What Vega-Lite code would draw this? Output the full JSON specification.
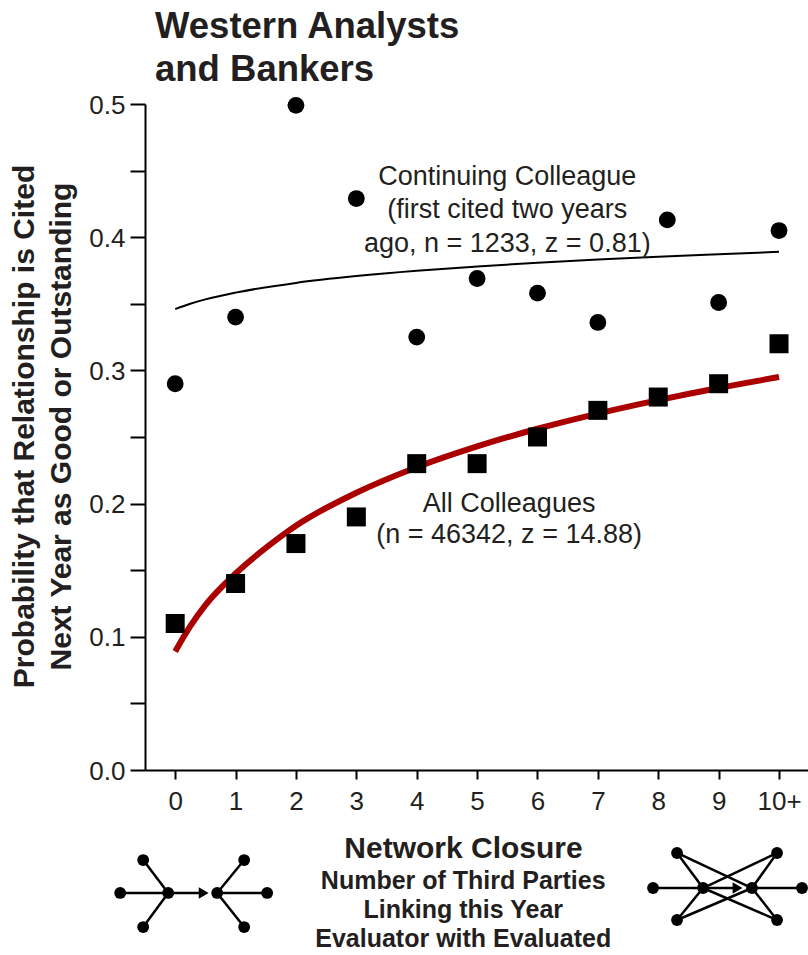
{
  "$schema": "https://vega.github.io/schema/vega-lite/v6.json",
  "width": 663,
  "height": 666,
  "autosize": {"type": "none"},
  "padding": {"left": 145, "top": 104, "right": 0, "bottom": 185},
  "background": "white",
  "config": {"view": {"stroke": null}, "font": "Liberation Sans"},
  "title": {
    "text": ["Western Analysts", "and Bankers"],
    "anchor": "start",
    "frame": "group",
    "fontSize": 36.5,
    "fontWeight": "bold",
    "font": "Liberation Sans",
    "color": "#231f20",
    "lineHeight": 43,
    "dx": 10,
    "offset": 4
  },
  "datasets": {
    "points": [
      {"x": 0, "y": 0.290, "series": "Continuing Colleague"},
      {"x": 1, "y": 0.340, "series": "Continuing Colleague"},
      {"x": 2, "y": 0.499, "series": "Continuing Colleague"},
      {"x": 3, "y": 0.429, "series": "Continuing Colleague"},
      {"x": 4, "y": 0.325, "series": "Continuing Colleague"},
      {"x": 5, "y": 0.369, "series": "Continuing Colleague"},
      {"x": 6, "y": 0.358, "series": "Continuing Colleague"},
      {"x": 7, "y": 0.336, "series": "Continuing Colleague"},
      {"x": 8.15, "y": 0.413, "series": "Continuing Colleague"},
      {"x": 9, "y": 0.351, "series": "Continuing Colleague"},
      {"x": 10, "y": 0.405, "series": "Continuing Colleague"},
      {"x": 0, "y": 0.110, "series": "All Colleagues"},
      {"x": 1, "y": 0.140, "series": "All Colleagues"},
      {"x": 2, "y": 0.170, "series": "All Colleagues"},
      {"x": 3, "y": 0.190, "series": "All Colleagues"},
      {"x": 4, "y": 0.230, "series": "All Colleagues"},
      {"x": 5, "y": 0.230, "series": "All Colleagues"},
      {"x": 6, "y": 0.250, "series": "All Colleagues"},
      {"x": 7, "y": 0.270, "series": "All Colleagues"},
      {"x": 8, "y": 0.280, "series": "All Colleagues"},
      {"x": 9, "y": 0.290, "series": "All Colleagues"},
      {"x": 10, "y": 0.320, "series": "All Colleagues"}
    ],
    "fits": [
      {"x": 0, "y": 0.346, "series": "Continuing Colleague"},
      {"x": 0.25, "y": 0.350, "series": "Continuing Colleague"},
      {"x": 0.5, "y": 0.3533, "series": "Continuing Colleague"},
      {"x": 1, "y": 0.3584, "series": "Continuing Colleague"},
      {"x": 2, "y": 0.3657, "series": "Continuing Colleague"},
      {"x": 3, "y": 0.3708, "series": "Continuing Colleague"},
      {"x": 4, "y": 0.3748, "series": "Continuing Colleague"},
      {"x": 5, "y": 0.3780, "series": "Continuing Colleague"},
      {"x": 6, "y": 0.3808, "series": "Continuing Colleague"},
      {"x": 7, "y": 0.3832, "series": "Continuing Colleague"},
      {"x": 8, "y": 0.3853, "series": "Continuing Colleague"},
      {"x": 9, "y": 0.3872, "series": "Continuing Colleague"},
      {"x": 10, "y": 0.3890, "series": "Continuing Colleague"},
      {"x": 0, "y": 0.089, "series": "All Colleagues"},
      {"x": 0.25, "y": 0.108, "series": "All Colleagues"},
      {"x": 0.5, "y": 0.1238, "series": "All Colleagues"},
      {"x": 1, "y": 0.1475, "series": "All Colleagues"},
      {"x": 1.5, "y": 0.1667, "series": "All Colleagues"},
      {"x": 2, "y": 0.1834, "series": "All Colleagues"},
      {"x": 3, "y": 0.2081, "series": "All Colleagues"},
      {"x": 4, "y": 0.2273, "series": "All Colleagues"},
      {"x": 5, "y": 0.2429, "series": "All Colleagues"},
      {"x": 6, "y": 0.2562, "series": "All Colleagues"},
      {"x": 7, "y": 0.2676, "series": "All Colleagues"},
      {"x": 8, "y": 0.2777, "series": "All Colleagues"},
      {"x": 9, "y": 0.2868, "series": "All Colleagues"},
      {"x": 10, "y": 0.2950, "series": "All Colleagues"}
    ],
    "edges": [
      {"x": -0.911, "y": -0.0923, "x2": -0.116, "y2": -0.0923},
      {"x": -0.116, "y": -0.0923, "x2": -0.530, "y2": -0.0676},
      {"x": -0.116, "y": -0.0923, "x2": -0.530, "y2": -0.1179},
      {"x": -0.116, "y": -0.0923, "x2": 0.45, "y2": -0.0923},
      {"x": 0.695, "y": -0.0923, "x2": 1.142, "y2": -0.0676},
      {"x": 0.695, "y": -0.0923, "x2": 1.142, "y2": -0.1179},
      {"x": 0.695, "y": -0.0923, "x2": 1.523, "y2": -0.0923},
      {"x": 7.914, "y": -0.0886, "x2": 8.742, "y2": -0.0886},
      {"x": 8.742, "y": -0.0886, "x2": 8.311, "y2": -0.0623},
      {"x": 8.742, "y": -0.0886, "x2": 8.311, "y2": -0.1126},
      {"x": 8.742, "y": -0.0886, "x2": 9.967, "y2": -0.0623},
      {"x": 8.742, "y": -0.0886, "x2": 9.967, "y2": -0.1126},
      {"x": 9.553, "y": -0.0886, "x2": 8.311, "y2": -0.0623},
      {"x": 9.553, "y": -0.0886, "x2": 8.311, "y2": -0.1126},
      {"x": 9.553, "y": -0.0886, "x2": 9.967, "y2": -0.0623},
      {"x": 9.553, "y": -0.0886, "x2": 9.967, "y2": -0.1126},
      {"x": 9.553, "y": -0.0886, "x2": 10.381, "y2": -0.0886},
      {"x": 8.742, "y": -0.0886, "x2": 9.30, "y2": -0.0886}
    ],
    "nodes": [
      {"x": -0.911, "y": -0.0923},
      {"x": -0.116, "y": -0.0923},
      {"x": 0.695, "y": -0.0923},
      {"x": 1.523, "y": -0.0923},
      {"x": -0.530, "y": -0.0676},
      {"x": -0.530, "y": -0.1179},
      {"x": 1.142, "y": -0.0676},
      {"x": 1.142, "y": -0.1179},
      {"x": 7.914, "y": -0.0886},
      {"x": 8.742, "y": -0.0886},
      {"x": 9.553, "y": -0.0886},
      {"x": 10.381, "y": -0.0886},
      {"x": 8.311, "y": -0.0623},
      {"x": 8.311, "y": -0.1126},
      {"x": 9.967, "y": -0.0623},
      {"x": 9.967, "y": -0.1126}
    ],
    "arrows": [
      {"x": 0.472, "y": -0.0923},
      {"x": 9.313, "y": -0.0886}
    ]
  },
  "layer": [
    {
      "data": {"name": "fits"},
      "transform": [{"filter": "datum.series == 'Continuing Colleague'"}],
      "mark": {"type": "line", "color": "black", "strokeWidth": 2, "interpolate": "monotone"},
      "encoding": {
        "x": {
          "field": "x",
          "type": "quantitative",
          "scale": {"domain": [-0.5, 10.48], "nice": false, "zero": false},
          "axis": {
            "title": "Network Closure",
            "titleFont": "Liberation Sans",
            "titleFontSize": 30,
            "titleFontWeight": "bold",
            "titleColor": "#231f20",
            "titleX": 318,
            "titleY": 87,
            "titleAlign": "center",
            "titleBaseline": "alphabetic",
            "values": [0, 1, 2, 3, 4, 5, 6, 7, 8, 9, 10],
            "labelExpr": "datum.value == 10 ? '10+' : format(datum.value, 'd')",
            "labelFontSize": 26,
            "labelColor": "#231f20",
            "labelPadding": 9,
            "labelFlush": false,
            "labelOverlap": false,
            "tickSize": 9,
            "tickWidth": 2,
            "tickColor": "black",
            "domainColor": "black",
            "domainWidth": 2,
            "grid": false
          }
        },
        "y": {
          "field": "y",
          "type": "quantitative",
          "scale": {"domain": [0, 0.5], "nice": false, "zero": false},
          "axis": {
            "title": ["Probability that Relationship is Cited", "Next Year as Good or Outstanding"],
            "titleFont": "Liberation Sans",
            "titleFontSize": 30,
            "titleFontWeight": "bold",
            "titleColor": "#231f20",
            "titleLineHeight": 37,
            "titleAngle": -90,
            "titleX": -112,
            "titleY": 322,
            "titleAlign": "center",
            "titleBaseline": "alphabetic",
            "values": [0, 0.05, 0.1, 0.15, 0.2, 0.25, 0.3, 0.35, 0.4, 0.45, 0.5],
            "labelExpr": "abs(round(datum.value * 10) - datum.value * 10) < 0.01 ? format(datum.value, '.1f') : ''",
            "labelFontSize": 26,
            "labelColor": "#231f20",
            "labelPadding": 5,
            "labelOffset": 1,
            "labelFlush": false,
            "labelOverlap": false,
            "tickSize": 15,
            "tickWidth": 2,
            "tickColor": "black",
            "domainColor": "black",
            "domainWidth": 2,
            "grid": false
          }
        }
      }
    },
    {
      "data": {"name": "fits"},
      "transform": [{"filter": "datum.series == 'All Colleagues'"}],
      "mark": {"type": "line", "color": "#aa0000", "strokeWidth": 6, "interpolate": "monotone"},
      "encoding": {
        "x": {"field": "x", "type": "quantitative", "scale": {"domain": [-0.5, 10.48], "nice": false, "zero": false}},
        "y": {"field": "y", "type": "quantitative", "scale": {"domain": [0, 0.5], "nice": false, "zero": false}}
      }
    },
    {
      "data": {"name": "points"},
      "transform": [{"filter": "datum.series == 'Continuing Colleague'"}],
      "mark": {"type": "point", "shape": "circle", "filled": true, "size": 283, "color": "black", "opacity": 1},
      "encoding": {
        "x": {"field": "x", "type": "quantitative", "scale": {"domain": [-0.5, 10.48], "nice": false, "zero": false}},
        "y": {"field": "y", "type": "quantitative", "scale": {"domain": [0, 0.5], "nice": false, "zero": false}}
      }
    },
    {
      "data": {"name": "points"},
      "transform": [{"filter": "datum.series == 'All Colleagues'"}],
      "mark": {"type": "point", "shape": "square", "filled": true, "size": 361, "color": "black", "opacity": 1},
      "encoding": {
        "x": {"field": "x", "type": "quantitative", "scale": {"domain": [-0.5, 10.48], "nice": false, "zero": false}},
        "y": {"field": "y", "type": "quantitative", "scale": {"domain": [0, 0.5], "nice": false, "zero": false}}
      }
    },
    {
      "data": {"values": [{"label": "Continuing Colleague"}]},
      "mark": {"type": "text", "font": "Liberation Sans", "fontSize": 27, "color": "#231f20", "align": "center", "baseline": "alphabetic", "lineHeight": 33.5, "text": ["Continuing Colleague", "(first cited two years", "ago, n = 1233, z = 0.81)"]},
      "encoding": {
        "x": {"datum": 5.5, "type": "quantitative", "scale": {"domain": [-0.5, 10.48], "nice": false, "zero": false}},
        "y": {"datum": 0.4392, "type": "quantitative", "scale": {"domain": [0, 0.5], "nice": false, "zero": false}}
      }
    },
    {
      "data": {"values": [{"label": "All Colleagues"}]},
      "mark": {"type": "text", "font": "Liberation Sans", "fontSize": 27, "color": "#231f20", "align": "center", "baseline": "alphabetic", "lineHeight": 31.5, "text": ["All Colleagues", "(n = 46342, z = 14.88)"]},
      "encoding": {
        "x": {"datum": 5.53, "type": "quantitative", "scale": {"domain": [-0.5, 10.48], "nice": false, "zero": false}},
        "y": {"datum": 0.1937, "type": "quantitative", "scale": {"domain": [0, 0.5], "nice": false, "zero": false}}
      }
    },
    {
      "data": {"values": [{"label": "x subtitle"}]},
      "mark": {"type": "text", "font": "Liberation Sans", "fontSize": 25, "fontWeight": "bold", "color": "#231f20", "align": "center", "baseline": "alphabetic", "lineHeight": 29, "text": ["Number of Third Parties", "Linking this Year", "Evaluator with Evaluated"]},
      "encoding": {
        "x": {"datum": 4.77, "type": "quantitative", "scale": {"domain": [-0.5, 10.48], "nice": false, "zero": false}},
        "y": {"datum": -0.0893, "type": "quantitative", "scale": {"domain": [0, 0.5], "nice": false, "zero": false}}
      }
    },
    {
      "data": {"name": "edges"},
      "mark": {"type": "rule", "strokeWidth": 2.5, "color": "black"},
      "encoding": {
        "x": {"field": "x", "type": "quantitative", "scale": {"domain": [-0.5, 10.48], "nice": false, "zero": false}},
        "y": {"field": "y", "type": "quantitative", "scale": {"domain": [0, 0.5], "nice": false, "zero": false}},
        "x2": {"field": "x2"},
        "y2": {"field": "y2"}
      }
    },
    {
      "data": {"name": "nodes"},
      "mark": {"type": "point", "shape": "circle", "filled": true, "size": 140, "color": "black", "opacity": 1},
      "encoding": {
        "x": {"field": "x", "type": "quantitative", "scale": {"domain": [-0.5, 10.48], "nice": false, "zero": false}},
        "y": {"field": "y", "type": "quantitative", "scale": {"domain": [0, 0.5], "nice": false, "zero": false}}
      }
    },
    {
      "data": {"name": "arrows"},
      "mark": {"type": "point", "shape": "triangle-right", "filled": true, "size": 130, "color": "black", "opacity": 1},
      "encoding": {
        "x": {"field": "x", "type": "quantitative", "scale": {"domain": [-0.5, 10.48], "nice": false, "zero": false}},
        "y": {"field": "y", "type": "quantitative", "scale": {"domain": [0, 0.5], "nice": false, "zero": false}}
      }
    }
  ]
}
